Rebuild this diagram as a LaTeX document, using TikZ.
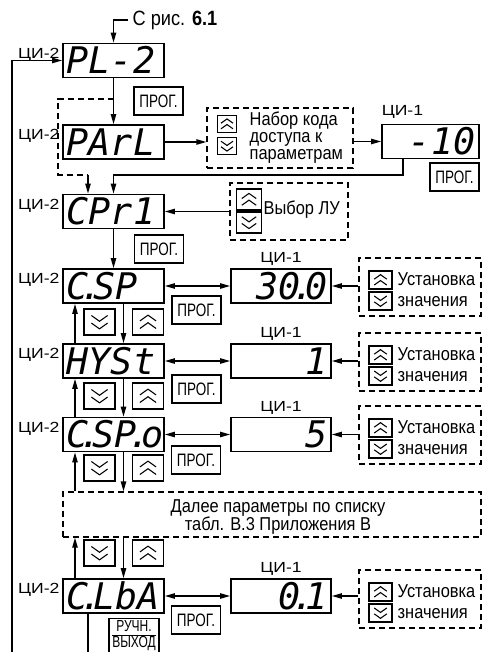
\documentclass[tikz,border=0pt]{standalone}
\usepackage{fontspec}
\setmainfont[FakeStretch=0.88]{Liberation Sans}
\newfontfamily\labfont[FakeStretch=1.2]{Liberation Sans}
\newfontfamily\progfont[FakeStretch=0.75]{Liberation Sans}
\newfontfamily\segfont{DejaVu Sans Mono}
\usetikzlibrary{arrows.meta}
\newcommand\sdot{\kern-.23em.\kern-.25em}
\tikzset{
  chu/.pic={\draw[line width=0.8pt] (-4.5pt,0.6pt) -- (0pt,3.8pt) -- (4.5pt,0.6pt);
            \draw[line width=0.8pt] (-4.5pt,-3.6pt) -- (0pt,-0.4pt) -- (4.5pt,-3.6pt);},
  chd/.pic={\draw[line width=0.8pt] (-4.5pt,-0.6pt) -- (0pt,-3.8pt) -- (4.5pt,-0.6pt);
            \draw[line width=0.8pt] (-4.5pt,3.6pt) -- (0pt,0.4pt) -- (4.5pt,3.6pt);},
}
\begin{document}
\begin{tikzpicture}[x=0.75pt,y=-0.75pt,line width=1pt,
  arr/.style={-{Triangle[length=7.5pt,width=4pt]}},
  darr/.style={{Triangle[length=7.5pt,width=4pt]}-{Triangle[length=7.5pt,width=4pt]}},
  disp/.style={draw, line width=1.3pt, minimum width=75.75pt, minimum height=25.5pt, inner sep=0pt},
  seg/.style={font=\segfont\itshape\fontsize{27.5}{27.5}\selectfont, inner sep=0pt, text height=20pt, text depth=0pt},
  lab/.style={font=\labfont\fontsize{11}{11}\selectfont, inner sep=0pt},
  prog/.style={draw, line width=1.1pt, minimum width=36.75pt, minimum height=21pt, inner sep=0pt, font=\progfont\fontsize{13.5}{13.5}\selectfont},
  dbox/.style={draw, dash pattern=on 4.5pt off 3pt, line width=0.9pt, inner sep=0pt},
  dsh/.style={dash pattern=on 4.5pt off 3pt, line width=0.9pt},
  btn/.style={draw, line width=1pt, inner sep=0pt},
  navb/.style={btn, minimum width=23.25pt, minimum height=19.5pt},
  ubtn/.style={btn, minimum width=17.25pt, minimum height=13.5pt},
  txt/.style={inner sep=0pt, align=left, font=\fontsize{14}{15.75}\selectfont},
]
\useasboundingbox (0,0) rectangle (483,652);

% ---- source text
\node[anchor=west, inner sep=0pt, font=\fontsize{15.5}{15.5}\selectfont] (src) at (132,20) {С рис. \textbf{6.1}};

% ---- CI-2 displays
\node[disp] (pl2)  at (113.5,60.5) {};
\node[disp] (parl) at (113.5,142) {};
\node[disp] (cpr)  at (113.5,211.5) {};
\node[disp] (csp)  at (113.5,286) {};
\node[disp] (hyst) at (113.5,361) {};
\node[disp] (cspo) at (113.5,434.5) {};
\node[disp] (clba) at (113.5,596) {};

\node[seg, anchor=west] (pl2t)  at ([xshift=3pt]pl2.west)  {PL-2};
\node[seg, anchor=west] (parlt) at ([xshift=3pt]parl.west) {PArL};
\node[seg, anchor=west] (cprt)  at ([xshift=3pt]cpr.west)  {CPr1};
\node[seg, anchor=west] (cspt)  at ([xshift=3pt]csp.west)  {C\sdot SP};
\node[seg, anchor=west] (hystt) at ([xshift=3pt]hyst.west) {HYSt};
\node[seg, anchor=west] (cspot) at ([xshift=2.5pt]cspo.west) {C\sdot SP\sdot o};
\node[seg, anchor=west] (clbat) at ([xshift=3pt]clba.west) {C\sdot LbA};

\foreach \n in {pl2,parl,cpr,csp,hyst,cspo,clba}
  \node[lab, anchor=east] (\n l) at ([xshift=-1.5pt,yshift=4.5pt]\n.west) {ЦИ-2};

% ---- CI-1 displays
\node[disp, minimum width=72.75pt] (m10) at (430.5,141.5) {};
\node[disp, minimum width=75pt] (csp1)  at (281,286) {};
\node[disp, minimum width=75pt] (hyst1) at (281,361) {};
\node[disp, minimum width=75pt] (cspo1) at (281,434.5) {};
\node[disp, minimum width=75pt] (clba1) at (281,596) {};

\node[seg, anchor=east] (m10t)   at ([xshift=-3pt]m10.east)   {-10};
\node[seg, anchor=east] (csp1t)  at ([xshift=-3pt]csp1.east)  {30\sdot 0};
\node[seg, anchor=east] (hyst1t) at ([xshift=-3pt]hyst1.east) {1};
\node[seg, anchor=east] (cspo1t) at ([xshift=-3pt]cspo1.east) {5};
\node[seg, anchor=east] (clba1t) at ([xshift=-3pt]clba1.east) {0\sdot 1};

\node[lab, anchor=west] (m10l) at ([yshift=9pt]m10.north west) {ЦИ-1};
\foreach \n in {csp1,hyst1,cspo1,clba1}
  \node[lab] (\n l) at ([yshift=6.75pt]\n.north) {ЦИ-1};

% ---- PROG keys
\node[prog] (p1) at (158.5,101) {ПРОГ.};
\node[prog] (p0) at (454.5,177) {ПРОГ.};
\node[prog] (p2) at (159,249) {ПРОГ.};
\node[prog] (p3) at (196.5,310) {ПРОГ.};
\node[prog] (p4) at (196.5,389) {ПРОГ.};
\node[prog] (p5) at (196,460) {ПРОГ.};
\node[prog] (p6) at (196,620) {ПРОГ.};

% ---- access code box
\node[dbox, minimum width=109.5pt, minimum height=45pt] (nabor) at (280,138) {};
\node[btn, minimum width=14.25pt, minimum height=12.75pt] (nu) at (227,124) {};
\node[btn, minimum width=14.25pt, minimum height=12.75pt] (nd) at (227,146) {};
\pic at (nu) {chu}; \pic at (nd) {chd};
\node[txt, anchor=west, font=\fontsize{14}{12.75}\selectfont] (nabt) at (249,138) {Набор кода\\доступа к\\параметрам};

% ---- LU select box
\node[dbox, minimum width=88.5pt, minimum height=42.75pt] (lu) at (289,211.5) {};
\node[btn, minimum width=18.75pt, minimum height=15.75pt] (lup) at (249,199.5) {};
\node[btn, minimum width=18.75pt, minimum height=15.75pt] (ldn) at (249,222.5) {};
\pic[scale=1.2] at (lup) {chu}; \pic[scale=1.2] at (ldn) {chd};
\node[txt, anchor=west] (lut) at (263,210) {Выбор ЛУ};

% ---- value setting boxes
\foreach \n/\T in {u1/258,u2/333,u3/406,u4/570}{
  \node[dbox, minimum width=91.5pt, minimum height=43.5pt] (\n) at (420,\T+29) {};
  \node[ubtn] (\n a) at (380.5,\T+22) {};
  \node[ubtn] (\n b) at (380.5,\T+43) {};
  \pic[scale=1.05] at (\n a) {chu}; \pic[scale=1.05] at (\n b) {chd};
  \node[txt, anchor=west] (\n t) at (397,\T+31.5) {Установка\\значения};
}

% ---- navigation buttons
\foreach \n/\y in {k1/322,k2/396,k3/468,k4/553}{
  \node[navb] (\n d) at (99.5,\y) {};
  \node[navb] (\n u) at (148,\y) {};
  \pic[scale=1.35] at (\n d) {chd}; \pic[scale=1.35] at (\n u) {chu};
}

% ---- further parameters
\node[dbox, minimum width=313.5pt, minimum height=33.75pt] (dalee) at (272,514.5) {};
\node[inner sep=0pt, align=center, font=\fontsize{14}{13.5}\selectfont] (dalt) at (278,517) {Далее параметры по списку\\табл. В.3 Приложения В};

% ---- manual output key
\node[draw, line width=1.1pt, inner xsep=0pt, inner ysep=1.5pt, minimum width=37.5pt, anchor=north,
      font=\progfont\fontsize{12}{12}\selectfont] (ruch) at (134,618)
  {\begin{tabular}{@{}c@{}}РУЧН.\\[-1pt]\hline ВЫХОД\\[2pt]\end{tabular}};

% ---- connectors
\draw[arr] ([xshift=-3pt]src.west) -| (pl2.north);
\coordinate (fb) at (12,652);
\draw[arr] (fb) |- (pl2.west);
\draw[arr] (pl2.south) -- (parl.north);
\coordinate (byp) at (113.5,99);
\coordinate (bk) at (88,175);
\draw[dsh] (byp) -- (58,99) -- (58,175) -- (bk);
\draw[arr] (bk) -- (bk |- cpr.north);
\draw[arr] (parl.east) -- (nabor.west |- parl.east);
\draw[arr] (nabor.east |- m10.west) -- (m10.west);
\coordinate (m10o) at (403,158);
\draw[arr] (m10o) -- (403,175) -| (cpr.north);
\draw[arr] (lu.west |- cpr.east) -- (cpr.east);
\draw[arr] (cpr.south) -- (csp.north);

\draw[darr] (csp.east) -- (csp1.west);
\draw[darr] (hyst.east) -- (hyst1.west);
\draw[darr] (cspo.east) -- (cspo1.west);
\draw[darr] (clba.east) -- (clba1.west);

\draw[arr] (u1.west |- csp1.east) -- (csp1.east);
\draw[arr] (u2.west |- hyst1.east) -- (hyst1.east);
\draw[arr] (u3.west |- cspo1.east) -- (cspo1.east);
\draw[arr] (u4.west |- clba1.east) -- (clba1.east);

\draw[arr] (75,0 |- hyst.north) -- (75,0 |- csp.south);
\draw[arr] (123.5,0 |- csp.south) -- (123.5,0 |- hyst.north);
\draw[arr] (75,0 |- cspo.north) -- (75,0 |- hyst.south);
\draw[arr] (123.5,0 |- hyst.south) -- (123.5,0 |- cspo.north);
\draw[arr] (75,0 |- dalee.north) -- (75,0 |- cspo.south);
\draw[arr] (123.5,0 |- cspo.south) -- (123.5,0 |- dalee.north);
\draw[arr] (75,0 |- clba.north) -- (75,0 |- dalee.south);
\draw[arr] (123.5,0 |- dalee.south) -- (123.5,0 |- clba.north);

\coordinate (cb) at (88,652);
\draw (cb |- clba.south) -- (cb);
\end{tikzpicture}
\end{document}
